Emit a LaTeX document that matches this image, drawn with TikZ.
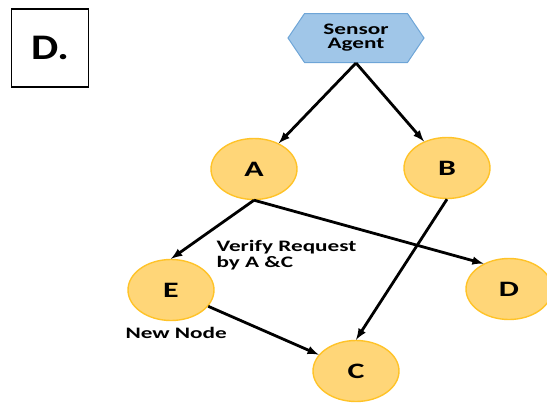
\documentclass[tikz,border=0pt]{standalone}
\usepackage{fontspec}
\setmainfont{Carlito}
\usepackage{tikz}
\usetikzlibrary{shapes,arrows}

\definecolor{nodefill}{RGB}{255,214,120}
\definecolor{nodeline}{RGB}{255,195,40}
\definecolor{hexfill}{RGB}{160,198,232}
\definecolor{hexline}{RGB}{110,165,215}

% wide lettering
\newcommand{\wtxt}[1]{\scalebox{1.45}[1]{#1}}

\begin{document}
\begin{tikzpicture}[x=1pt,y=-1pt,
                every path/.style={>=latex},
                link/.style={->,line width=2.8pt},
                peer/.style={ellipse,draw=nodeline,fill=nodefill,line width=1.4pt,
                             minimum width=86pt,minimum height=61pt,font=\bfseries\fontsize{22}{22}\selectfont},
                tag/.style={align=left,font=\bfseries\fontsize{16}{17.5}\selectfont}]
  \useasboundingbox (0,0) rectangle (547,405);
  % label box in the corner
  \node[draw,line width=1.3pt,minimum width=77pt,minimum height=78pt,
        font=\bfseries\fontsize{36}{36}\selectfont] (lbl) at (50,48) {\scalebox{1.2}[1]{D.}};
  % the sensor agent on top
  \node[signal,signal to=west and east,signal pointer angle=112,draw=hexline,fill=hexfill,
        line width=1pt,minimum width=136pt,minimum height=49pt,inner sep=2pt,
        font=\bfseries\fontsize{16}{16.5}\selectfont] (agent) at (356,38)
        {\wtxt{\begin{tabular}{@{}c@{}}Sensor\\[-2pt]Agent\end{tabular}}};
  \node[peer]      (a) at (254,169)  {\wtxt{A}};
  \node[peer]      (b) at (447,168)  {\wtxt{B}};
  \node[peer]      (e) at (171,290)  {\wtxt{E}};
  \node[peer]      (d) at (509,289)  {\wtxt{D}};
  \node[peer]      (c) at (356,371)  {\wtxt{C}};
  \node[tag,anchor=west]  (vr) at (213,256)
        {\wtxt{\begin{tabular}{@{}l@{}}Verify Request\\[-1pt]by A \&C\end{tabular}}};
  \node[tag,anchor=west]  (nn) at (122,333)  {\wtxt{New Node}};
  \draw[link] (agent.south) -- (a);
  \draw[link] (agent.south) -- (b);
  \draw[link] (a.south) -- (e.north);
  \draw[link] (a.south) -- (d.135);
  \draw[link] (b.south) -- (c.north);
  \draw[link] (e) -- (c);
\end{tikzpicture}
\end{document}
